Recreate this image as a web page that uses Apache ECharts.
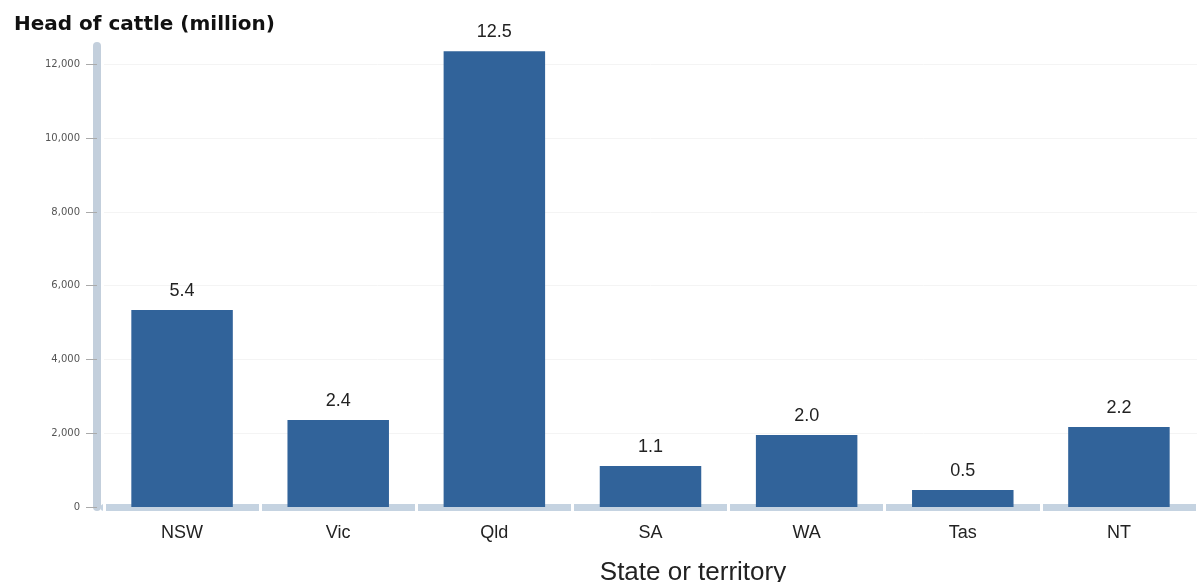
<!DOCTYPE html>
<html><head><meta charset="utf-8">
<script src="https://cdn.jsdelivr.net/npm/echarts@6/dist/echarts.min.js"></script>
<style>html,body{margin:0;padding:0;background:#fff}#c{width:1197px;height:582px}</style>
</head><body><div id="c"></div>
<script>
const categories = ['NSW','Vic','Qld','SA','WA','Tas','NT'];
const values = [5340, 2360, 12360, 1110, 1950, 460, 2170];
const barLabels = ['5.4','2.4','12.5','1.1','2.0','0.5','2.2'];
const yTicks = [0, 2000, 4000, 6000, 8000, 10000, 12000];

const chart = echarts.init(document.getElementById('c'));
const fmt = v => v.toLocaleString('en-US');
chart.setOption({
  animation: false,
  title: [
    {text: 'Head of cattle (million)', left: 9, top: 10,
     textStyle: {fontFamily: 'DejaVu Sans', fontWeight: 'bold', fontSize: 20, color: '#111'}},
    {text: 'State or territory', left: 688, top: 555, textAlign: 'center',
     textStyle: {fontFamily: 'Liberation Sans', fontWeight: 'normal', fontSize: 26, color: '#222'}}
  ],
  grid: {left: 104, right: 0, top: 46, bottom: 75},
  xAxis: [{
    type: 'category', data: categories,
    axisLine: {show: true, lineStyle: {color: '#c5d3e1', width: 7}},
    axisTick: {show: true, inside: true, length: 5, lineStyle: {color: '#fff', width: 3}},
    axisLabel: {margin: 17, fontFamily: 'Liberation Sans', fontSize: 18, color: '#222'}
  }, {
    type: 'category', data: categories, position: 'bottom',
    axisLine: {show: false},
    axisTick: {show: true, inside: false, length: 5, lineStyle: {color: '#fff', width: 3}},
    axisLabel: {show: false}
  }],
  yAxis: {
    type: 'value', min: 0, max: 12500, offset: 7,
    axisLine: {show: true, lineStyle: {color: '#c3cfdc', width: 8}},
    axisTick: {show: true, length: 11, customValues: yTicks, lineStyle: {color: '#aaa', width: 1}},
    axisLabel: {customValues: yTicks, formatter: fmt, margin: 17, fontFamily: 'DejaVu Sans', fontSize: 10, color: '#555'},
    splitLine: {show: true, lineStyle: {color: '#f4f4f4', width: 1}}
  },
  series: [{
    type: 'bar', data: values, barWidth: '65%',
    itemStyle: {color: '#31639a'},
    label: {show: true, position: 'top', distance: 10,
      formatter: p => barLabels[p.dataIndex],
      fontFamily: 'Liberation Sans', fontSize: 18, color: '#222'}
  }]
});
</script></body></html>
